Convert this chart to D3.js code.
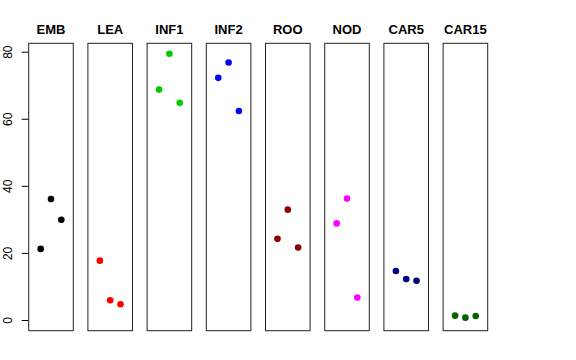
<!DOCTYPE html>
<html>
<head>
<meta charset="utf-8">
<script src="https://cdn.jsdelivr.net/npm/d3@7"></script>
<style>
  body { margin: 0; background: white; }
  svg { display: block; font-family: "Liberation Sans", Arial, sans-serif; }
</style>
</head>
<body>
<div id="chart"></div>
<script>
//Chart data
const groups = ["EMB", "LEA", "INF1", "INF2", "ROO", "NOD", "CAR5", "CAR15"];
const colours = ["#000000", "#ff0000", "#00cd00", "#0000ff", "#8b0000", "#ff00ff", "#000080", "#006400"];
const values = [
    [21.2, 36.1, 29.9],
    [17.7, 5.9, 4.7],
    [68.7, 79.4, 64.8],
    [72.2, 76.8, 62.3],
    [24.2, 32.9, 21.6],
    [28.8, 36.2, 6.7],
    [14.6, 12.2, 11.7],
    [1.3, 0.7, 1.2]
];
const yTicks = [0, 20, 40, 60, 80];

//Size of the svg
const w = 576;
const h = 360;
const panelTop = 43.3;
const panelBottom = 330.7;

const svg = d3.select("#chart")
    .append("svg")
    .attr("width", w)
    .attr("height", h);

//Scales
const xBand = d3.scaleBand()
    .domain(groups)
    .range([28.7, 487.7])
    .paddingInner(0.247)
    .paddingOuter(0);

const xInner = d3.scaleLinear()
    .domain([-0.16, 4.16])
    .range([0, xBand.bandwidth()]);

const y = d3.scaleLinear()
    .domain([0, 80])
    .range([320, 51.7]);

//Y axis (ticks only, no domain line)
const yAxis = svg.append("g")
    .attr("transform", `translate(${xBand(groups[0])},0)`)
    .call(d3.axisLeft(y).tickValues(yTicks).tickSize(7).tickPadding(3));

yAxis.select(".domain").remove();
yAxis.selectAll(".tick line").attr("stroke", "#000");
yAxis.selectAll(".tick text")
    .attr("font-size", 12)
    .attr("font-family", "Liberation Sans, Arial, sans-serif")
    .attr("fill", "#000")
    .attr("transform", "rotate(-90)")
    .attr("x", 0)
    .attr("y", -17)
    .attr("dy", 0)
    .attr("text-anchor", "middle");

//One panel per group
const panels = svg.selectAll(".panel")
    .data(groups)
    .enter()
    .append("g")
    .attr("class", "panel")
    .attr("transform", d => `translate(${xBand(d)},0)`);

panels.append("rect")
    .attr("x", 0)
    .attr("y", panelTop)
    .attr("width", xBand.bandwidth())
    .attr("height", panelBottom - panelTop)
    .attr("fill", "none")
    .attr("stroke", "#222")
    .attr("stroke-width", 1);

panels.append("text")
    .attr("x", xBand.bandwidth() / 2)
    .attr("y", 33.5)
    .attr("text-anchor", "middle")
    .attr("font-weight", "bold")
    .attr("font-size", 13)
    .text(d => d);

//Points
panels.each(function(g, i) {
    d3.select(this).selectAll("circle")
        .data(values[i])
        .enter()
        .append("circle")
        .attr("cx", (v, j) => xInner(j + 1))
        .attr("cy", v => y(v))
        .attr("r", 3.3)
        .attr("fill", colours[i]);
});
</script>
</body>
</html>
